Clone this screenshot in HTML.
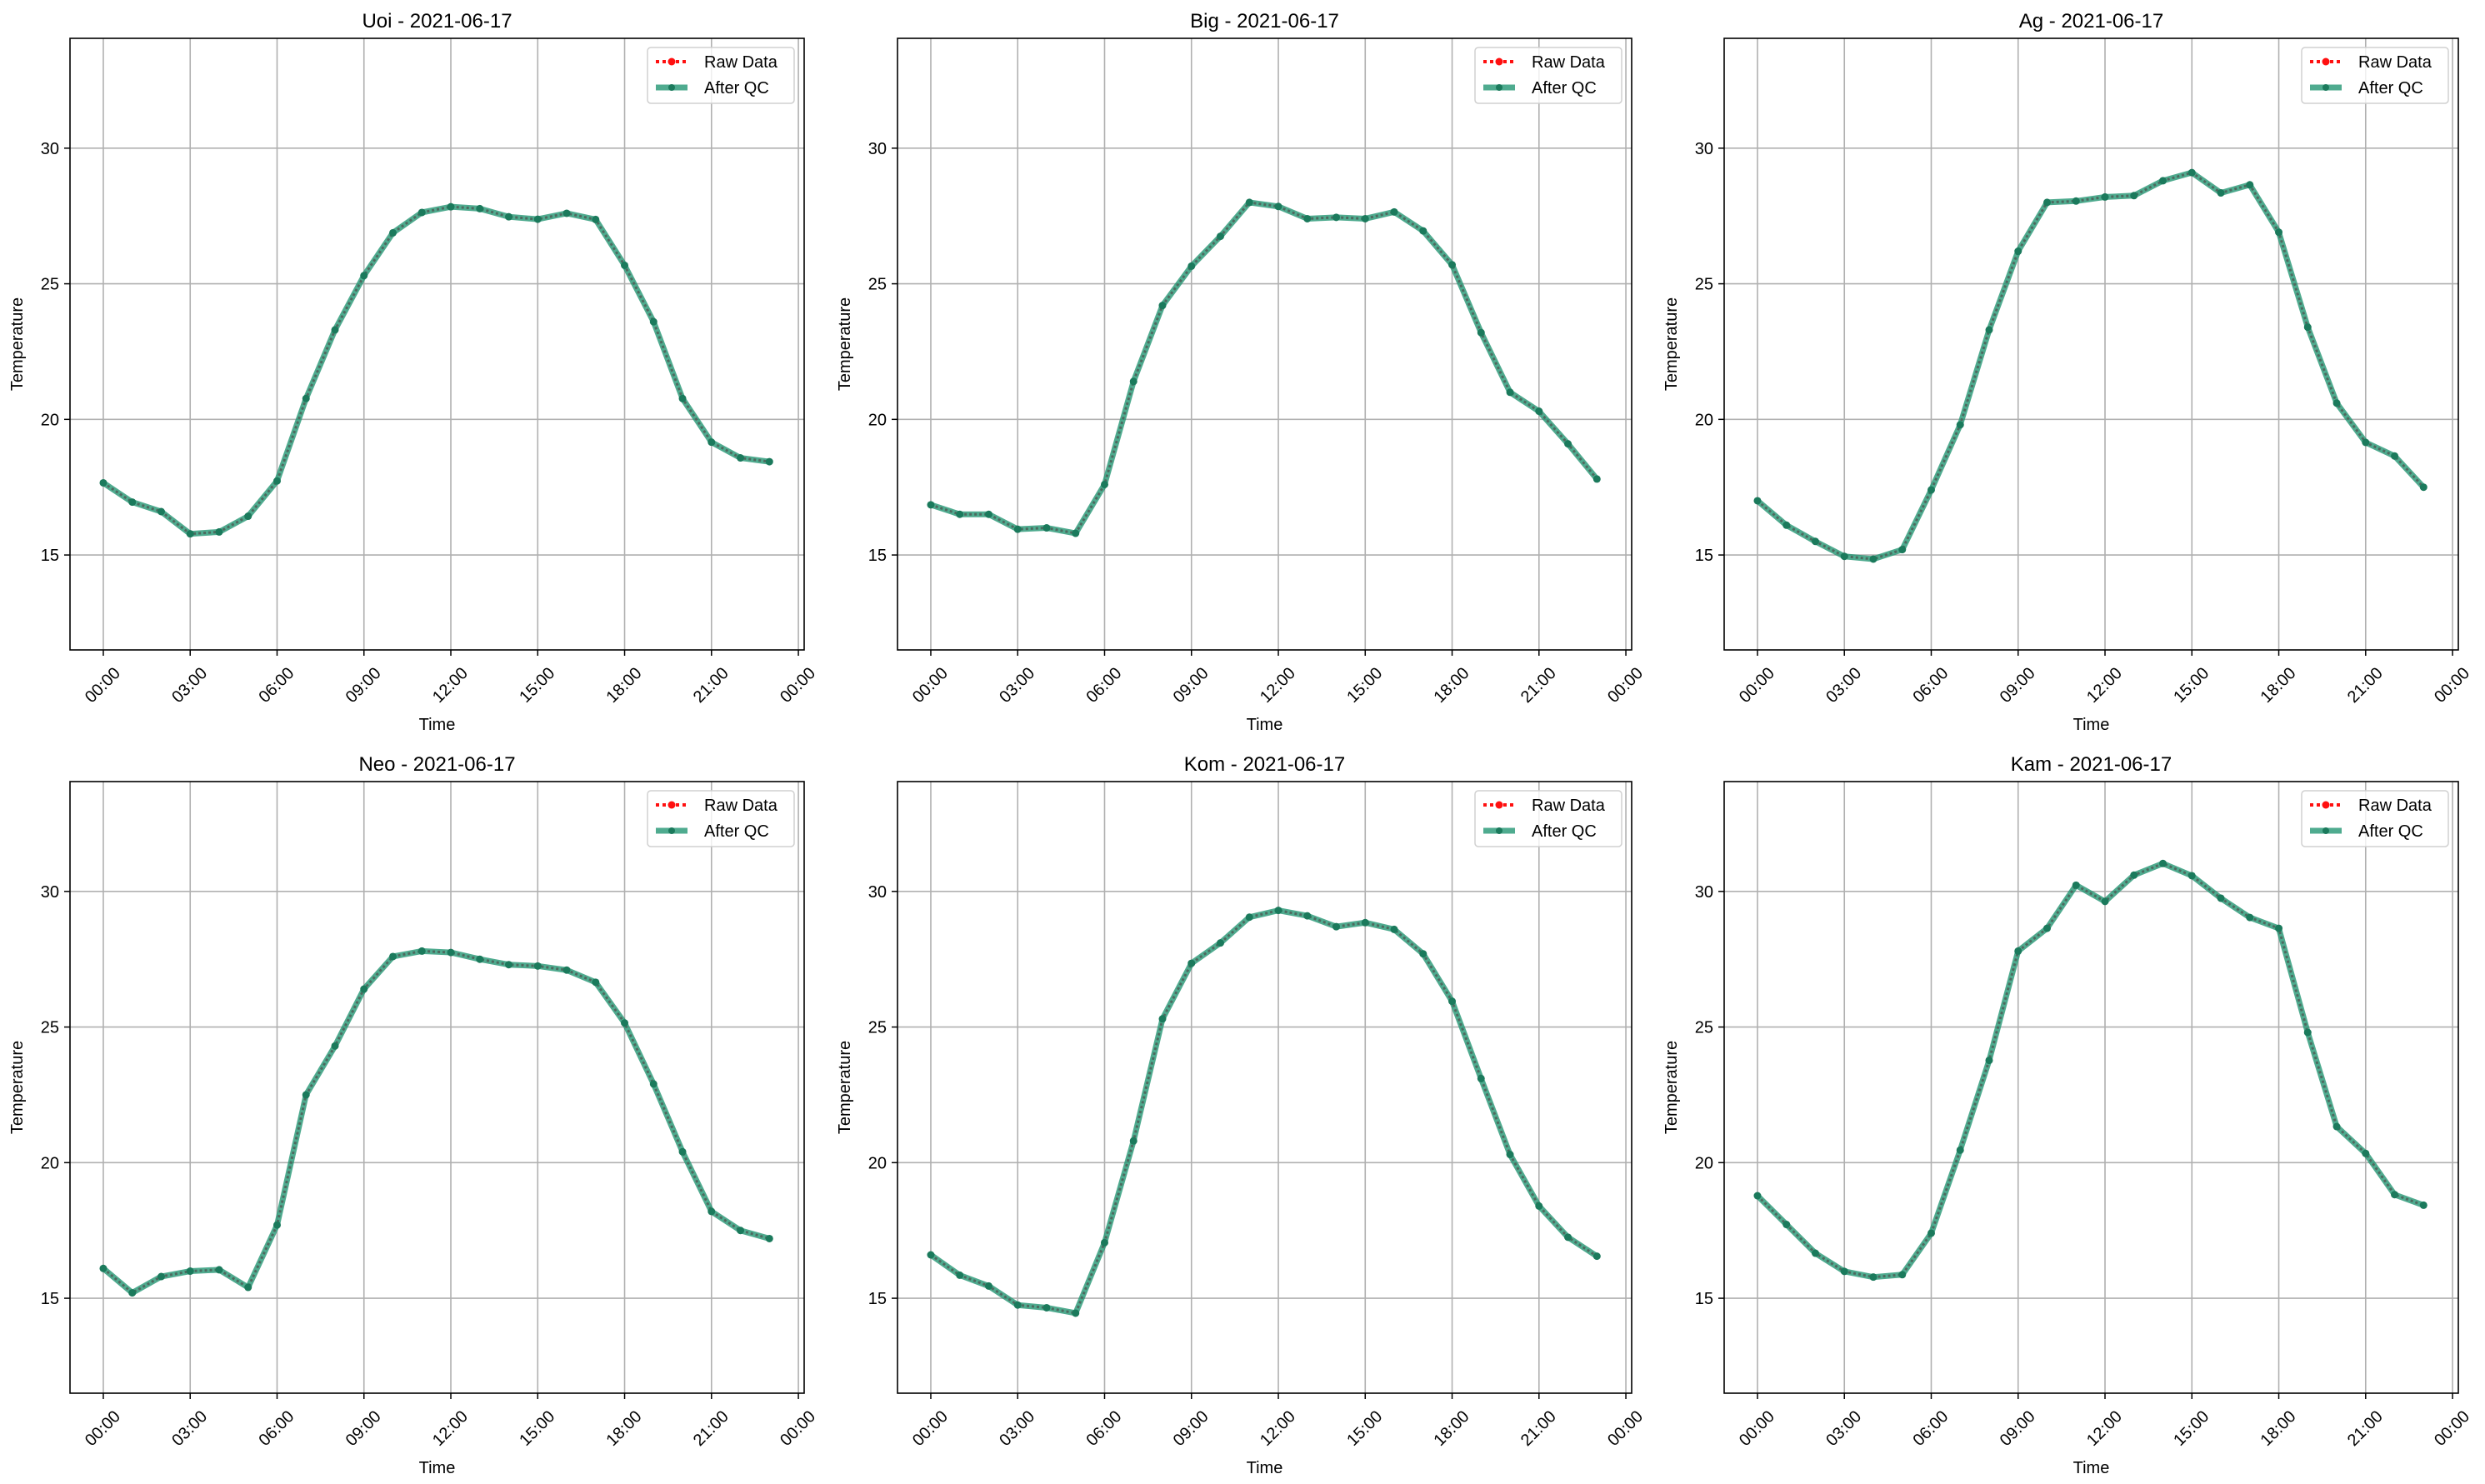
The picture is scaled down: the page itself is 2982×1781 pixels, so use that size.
<!DOCTYPE html>
<html><head><meta charset="utf-8"><style>
html,body{margin:0;padding:0;background:#fff;overflow:hidden;}
svg{display:block;font-family:"Liberation Sans","DejaVu Sans",sans-serif;}
</style></head><body>
<svg id="fig" width="2982" height="1781" viewBox="0 0 2982 1781" xmlns="http://www.w3.org/2000/svg"></svg>
<script>
const stations = ["Uoi","Big","Ag","Neo","Kom","Kam"];
const dateLabel = "2021-06-17";
const hours = [0,1,2,3,4,5,6,7,8,9,10,11,12,13,14,15,16,17,18,19,20,21,22,23];
const uoiTemp = [17.66,16.95,16.6,15.78,15.85,16.43,17.73,20.77,23.3,25.3,26.88,27.63,27.84,27.77,27.47,27.38,27.6,27.37,25.68,23.6,20.77,19.16,18.58,18.44];
const bigTemp = [16.85,16.5,16.5,15.95,16.0,15.8,17.6,21.4,24.2,25.65,26.75,28.0,27.85,27.4,27.45,27.4,27.65,26.95,25.7,23.2,21.0,20.3,19.1,17.8];
const agTemp = [17.0,16.1,15.5,14.95,14.85,15.2,17.4,19.8,23.3,26.2,28.0,28.05,28.2,28.25,28.8,29.1,28.35,28.65,26.9,23.4,20.6,19.15,18.65,17.5];
const neoTemp = [16.1,15.2,15.8,16.0,16.05,15.4,17.7,22.5,24.3,26.4,27.6,27.8,27.75,27.5,27.3,27.25,27.1,26.65,25.15,22.9,20.4,18.2,17.5,17.2];
const komTemp = [16.6,15.85,15.45,14.75,14.65,14.45,17.05,20.8,25.3,27.35,28.1,29.05,29.3,29.1,28.7,28.85,28.6,27.7,25.95,23.1,20.3,18.4,17.25,16.55];
const kamTemp = [18.78,17.72,16.66,15.99,15.78,15.87,17.4,20.46,23.77,27.8,28.64,30.23,29.63,30.6,31.03,30.58,29.75,29.04,28.64,24.8,21.33,20.34,18.82,18.43];
const seriesList = [uoiTemp,bigTemp,agTemp,neoTemp,komTemp,kamTemp];
const yTicks = [15,20,25,30];
const xTickHours = [0,3,6,9,12,15,18,21,24];
const xTickLabels = ["00:00","03:00","06:00","09:00","12:00","15:00","18:00","21:00","00:00"];
const yMin = 11.5, yMax = 34.05, xMin = -1.15, xMax = 24.2;

const NS = "http://www.w3.org/2000/svg";
const fig = document.getElementById("fig");
function mk(tag, attrs, parent){const e=document.createElementNS(NS,tag);for(const k in attrs)e.setAttribute(k,attrs[k]);parent.appendChild(e);return e;}

const colLeft=[84,1077,2069], rowTop=[46,938], W=881, H=734;

stations.forEach((name,i)=>{
  const L=colLeft[i%3], T=rowTop[Math.floor(i/3)], R=L+W, B=T+H;
  const g=mk("g",{},fig);
  
  
  const sx=h=>L+(h-xMin)/(xMax-xMin)*W;
  const sy=v=>B-(v-yMin)/(yMax-yMin)*H;
  xTickHours.forEach((h,k)=>{
    const x=sx(h);
    if(x<=R){const gl=mk("line",{x1:x,x2:x,y1:T,y2:B,stroke:"#b0b0b0","stroke-width":1.6},g);
    }
    const tk=mk("line",{x1:x,x2:x,y1:B,y2:B+7,stroke:"#000","stroke-width":1.5},g);
    
    const t=mk("text",{x:x,y:B+43,"font-size":20,"text-anchor":"middle","dominant-baseline":"middle",transform:`rotate(-45 ${x} ${B+43})`},g);
    t.textContent=xTickLabels[k];
    
  });
  yTicks.forEach(v=>{
    const y=sy(v);
    const gl=mk("line",{x1:L,x2:R,y1:y,y2:y,stroke:"#b0b0b0","stroke-width":1.6},g);
    
    mk("line",{x1:L-7,x2:L,y1:y,y2:y,stroke:"#000","stroke-width":1.5},g);
    const t=mk("text",{x:L-13,y:y+7,"font-size":20,"text-anchor":"end"},g);
    t.textContent=v;
    
  });
  const data=seriesList[i];
  const pts=hours.map((h,k)=>sx(h)+","+sy(data[k])).join(" ");
  const qc=mk("polyline",{points:pts,fill:"none",stroke:"rgba(35,150,115,0.8)","stroke-width":7,"stroke-linejoin":"round"},g);
  
  const raw=mk("polyline",{points:pts,fill:"none",stroke:"#4d6a5f","stroke-width":3,"stroke-dasharray":"3 3"},g);
  
  hours.forEach((h,k)=>{
    const c=mk("circle",{cx:sx(h),cy:sy(data[k]),r:4.5,fill:"#1b7a5c"},g);
    
  });
  const sp=mk("rect",{x:L,y:T,width:W,height:H,fill:"none",stroke:"#000","stroke-width":1.6},g);
  
  const title=mk("text",{x:(L+R)/2,y:T-13,"font-size":24,"text-anchor":"middle"},g);
  title.textContent=name+" - "+dateLabel;
  
  const xl=mk("text",{x:(L+R)/2,y:B+96,"font-size":20,"text-anchor":"middle"},g);
  xl.textContent="Time";
  
  const yl=mk("text",{x:L-57,y:(T+B)/2,"font-size":20,"text-anchor":"middle",transform:`rotate(-90 ${L-57} ${(T+B)/2})`},g);
  yl.textContent="Temperature";
  
  const lg=mk("g",{},g);
  
  const lx=R-188, ly=T+11;
  mk("rect",{x:lx,y:ly,width:176,height:67,rx:4,fill:"rgba(255,255,255,0.8)",stroke:"#d0d0d0","stroke-width":1.5},lg);
  const r1=mk("line",{x1:lx+10,x2:lx+48,y1:ly+17,y2:ly+17,stroke:"#ff1010","stroke-width":4,"stroke-dasharray":"4 4"},lg);
  
  mk("circle",{cx:lx+29,cy:ly+17,r:4.5,fill:"#ff1010"},lg);
  const t1=mk("text",{x:lx+68,y:ly+24,"font-size":20},lg);t1.textContent="Raw Data";
  
  const r2=mk("line",{x1:lx+10,x2:lx+48,y1:ly+48,y2:ly+48,stroke:"rgba(35,150,115,0.8)","stroke-width":7},lg);
  
  mk("circle",{cx:lx+29,cy:ly+48,r:4,fill:"#1b7a5c"},lg);
  const t2=mk("text",{x:lx+68,y:ly+55,"font-size":20},lg);t2.textContent="After QC";
  
});
</script>
</body></html>
